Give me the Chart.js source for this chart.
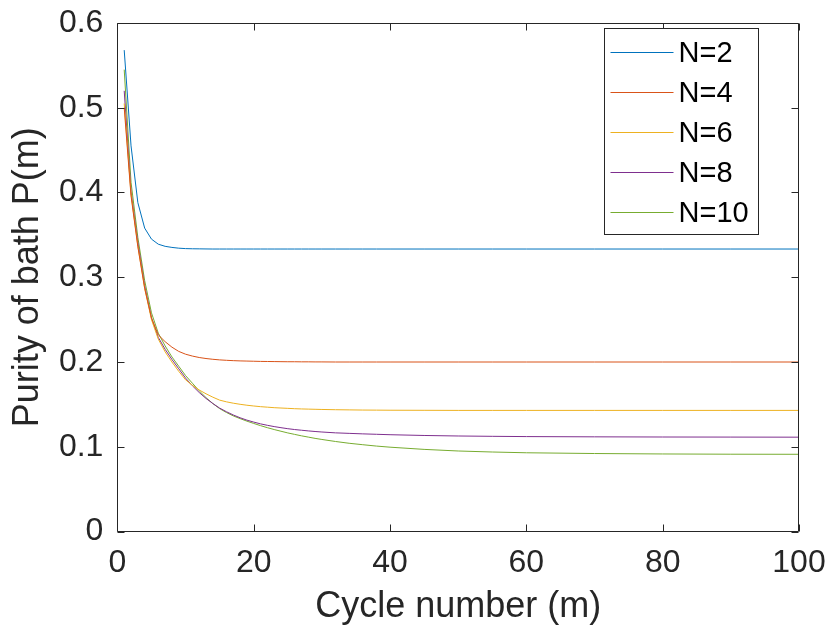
<!DOCTYPE html>
<html>
<head>
<meta charset="utf-8">
<script src="https://cdn.jsdelivr.net/npm/chart.js@4.4.1/dist/chart.umd.min.js"></script>
<style>
  html, body { margin: 0; padding: 0; background: #ffffff; }
  #wrap { width: 828px; height: 629px; }
</style>
</head>
<body>
<div id="wrap"><canvas id="c" width="828" height="629"></canvas></div>
<script>
// ---- data ----
const cycles = [1,2,3,4,5,6,7,8,9,10,11,12,13,14,15,16,17,18,19,20,21,22,23,24,25,26,27,28,29,30,32,34,36,38,40,45,50,55,60,70,80,90,100];

const seriesLabels = ['N=2', 'N=4', 'N=6', 'N=8', 'N=10'];

const purityN2 = [0.568,0.455,0.388,0.358,0.345,0.339,0.3365,0.3352,0.3343,0.3338,0.3336,0.3335,0.3334,0.3333,0.3333,0.3333,0.3333,0.3333,0.3333,0.3333,0.3333,0.3333,0.3333,0.3333,0.3333,0.3333,0.3333,0.3333,0.3333,0.3333,0.3333,0.3333,0.3333,0.3333,0.3333,0.3333,0.3333,0.3333,0.3333,0.3333,0.3333,0.3333,0.3333];

const purityN4 = [0.500,0.396,0.336,0.287,0.252,0.232,0.224,0.2175,0.2125,0.2092,0.2070,0.2053,0.2041,0.2032,0.2025,0.2020,0.2016,0.2013,0.2011,0.2009,0.2007,0.2006,0.2005,0.2004,0.2003,0.2003,0.2002,0.2002,0.2001,0.2001,0.2000,0.2000,0.2000,0.2000,0.2000,0.2000,0.2000,0.2000,0.2000,0.2000,0.2000,0.2000,0.2000];

const purityN6 = [0.505,0.398,0.337,0.287,0.250,0.227,0.212,0.200,0.189,0.179,0.1725,0.1670,0.1625,0.1585,0.1550,0.1530,0.1514,0.1501,0.1490,0.1481,0.1473,0.1467,0.1461,0.1457,0.1453,0.1449,0.1446,0.1444,0.1442,0.1440,0.1437,0.1435,0.1433,0.1432,0.1431,0.1430,0.1429,0.1429,0.1429,0.1429,0.1429,0.1429,0.1429];

const purityN8 = [0.520,0.401,0.341,0.290,0.252,0.229,0.215,0.203,0.192,0.181,0.172,0.164,0.157,0.151,0.1456,0.1413,0.1375,0.1342,0.1314,0.1291,0.1270,0.1253,0.1238,0.1225,0.1213,0.1203,0.1195,0.1187,0.1180,0.1174,0.1164,0.1158,0.1152,0.1147,0.1142,0.1133,0.1127,0.1123,0.1120,0.1117,0.1115,0.1114,0.1113];

const purityN10 = [0.545,0.412,0.347,0.296,0.258,0.234,0.219,0.206,0.195,0.184,0.175,0.166,0.158,0.151,0.1450,0.1404,0.1364,0.1332,0.1302,0.1275,0.1249,0.1225,0.1203,0.1183,0.1163,0.1146,0.1129,0.1114,0.1099,0.1086,0.1062,0.1041,0.1024,0.1008,0.0995,0.0969,0.0950,0.0938,0.0929,0.0920,0.0915,0.0912,0.0911];

const xTickValues = [0, 20, 40, 60, 80, 100];
const xTickLabels = ['0', '20', '40', '60', '80', '100'];
const yTickValues = [0, 0.1, 0.2, 0.3, 0.4, 0.5, 0.6];
const yTickLabels = ['0', '0.1', '0.2', '0.3', '0.4', '0.5', '0.6'];

const xTitle = 'Cycle number (m)';
const yTitle = 'Purity of bath P(m)';

// ---- styling ----
const colors = ['#0072BD', '#D95319', '#EDB120', '#7E2F8E', '#77AC30'];
const axisColor = '#262626';
const FONT = "'Liberation Sans', Arial, Helvetica, sans-serif";

const allSeries = [purityN2, purityN4, purityN6, purityN8, purityN10];

const datasets = allSeries.map((vals, i) => ({
  label: seriesLabels[i],
  data: cycles.map((m, k) => ({ x: m, y: vals[k] })),
  borderColor: colors[i],
  backgroundColor: colors[i],
  borderWidth: 1,
  pointRadius: 0,
  pointHoverRadius: 0,
  tension: 0,
  fill: false
}));

// frame + inward ticks (MATLAB style box)
const framePlugin = {
  id: 'frame',
  afterDatasetsDraw(chart) {
    const ctx = chart.ctx;
    const a = chart.chartArea;
    const xs = chart.scales.x, ys = chart.scales.y;
    const L = Math.round(a.left) + 0.5, R = Math.round(a.right) - 0.5;
    const T = Math.round(a.top) + 0.5, B = Math.round(a.bottom) - 0.5;
    ctx.save();
    ctx.strokeStyle = axisColor;
    ctx.lineWidth = 1;
    ctx.beginPath();
    ctx.rect(L, T, R - L, B - T);
    ctx.stroke();
    const tl = 7;
    ctx.beginPath();
    xTickValues.forEach(v => {
      const px = Math.round(xs.getPixelForValue(v)) + 0.5;
      ctx.moveTo(px, B); ctx.lineTo(px, B - tl);
      ctx.moveTo(px, T); ctx.lineTo(px, T + tl);
    });
    yTickValues.forEach(v => {
      const py = Math.round(ys.getPixelForValue(v)) + 0.5;
      ctx.moveTo(L, py); ctx.lineTo(L + tl, py);
      ctx.moveTo(R, py); ctx.lineTo(R - tl, py);
    });
    ctx.stroke();
    ctx.restore();
  }
};

// legend box inside the plot, top-right
const legendPlugin = {
  id: 'boxLegend',
  afterDraw(chart) {
    const ctx = chart.ctx;
    const a = chart.chartArea;
    const boxW = 154, boxH = 206;
    const bx = Math.round(a.right - 41 - boxW) + 0.5;
    const by = Math.round(a.top + 5) + 0.5;
    ctx.save();
    ctx.fillStyle = '#ffffff';
    ctx.fillRect(bx, by, boxW, boxH);
    ctx.strokeStyle = axisColor;
    ctx.lineWidth = 1;
    ctx.strokeRect(bx, by, boxW, boxH);
    ctx.font = '29px ' + FONT;
    ctx.textBaseline = 'middle';
    ctx.textAlign = 'left';
    chart.data.datasets.forEach((ds, i) => {
      const cy = Math.round(by + 23 + i * 40) + 0.5;
      ctx.strokeStyle = ds.borderColor;
      ctx.lineWidth = 1;
      ctx.beginPath();
      ctx.moveTo(bx + 6, cy);
      ctx.lineTo(bx + 69, cy);
      ctx.stroke();
      ctx.fillStyle = '#000000';
      ctx.fillText(ds.label, bx + 74, cy + 1);
    });
    ctx.restore();
  }
};

new Chart(document.getElementById('c'), {
  type: 'line',
  data: { datasets },
  options: {
    responsive: false,
    animation: false,
    devicePixelRatio: 1,
    layout: { padding: { left: 0, right: 29, top: 23, bottom: 0 } },
    plugins: {
      legend: { display: false },
      tooltip: { enabled: false }
    },
    scales: {
      x: {
        type: 'linear',
        min: 0, max: 100,
        afterBuildTicks(scale) { scale.ticks = xTickValues.map(v => ({ value: v })); },
        afterFit(scale) { scale.height = 97.5; scale.paddingLeft = 0; scale.paddingRight = 0; },
        grid: { display: false, drawTicks: false },
        border: { display: false },
        ticks: {
          color: axisColor,
          font: { family: FONT, size: 32 },
          padding: 12,
          maxRotation: 0,
          callback: (v) => { const i = xTickValues.indexOf(v); return i >= 0 ? xTickLabels[i] : ''; }
        },
        title: {
          display: true,
          text: xTitle,
          color: axisColor,
          font: { family: FONT, size: 36 },
          padding: { top: 0, bottom: 0 }
        }
      },
      y: {
        type: 'linear',
        min: 0, max: 0.6,
        afterBuildTicks(scale) { scale.ticks = yTickValues.map(v => ({ value: v })); },
        afterFit(scale) { scale.width = 117.4; scale.paddingTop = 0; scale.paddingBottom = 0; },
        grid: { display: false, drawTicks: false },
        border: { display: false },
        ticks: {
          color: axisColor,
          font: { family: FONT, size: 32 },
          padding: 14,
          callback: (v) => { const i = yTickValues.findIndex(t => Math.abs(t - v) < 1e-9); return i >= 0 ? yTickLabels[i] : ''; }
        },
        title: {
          display: true,
          text: yTitle,
          color: axisColor,
          font: { family: FONT, size: 36 },
          padding: { top: 6, bottom: 0 }
        }
      }
    }
  },
  plugins: [framePlugin, legendPlugin]
});
</script>
</body>
</html>
